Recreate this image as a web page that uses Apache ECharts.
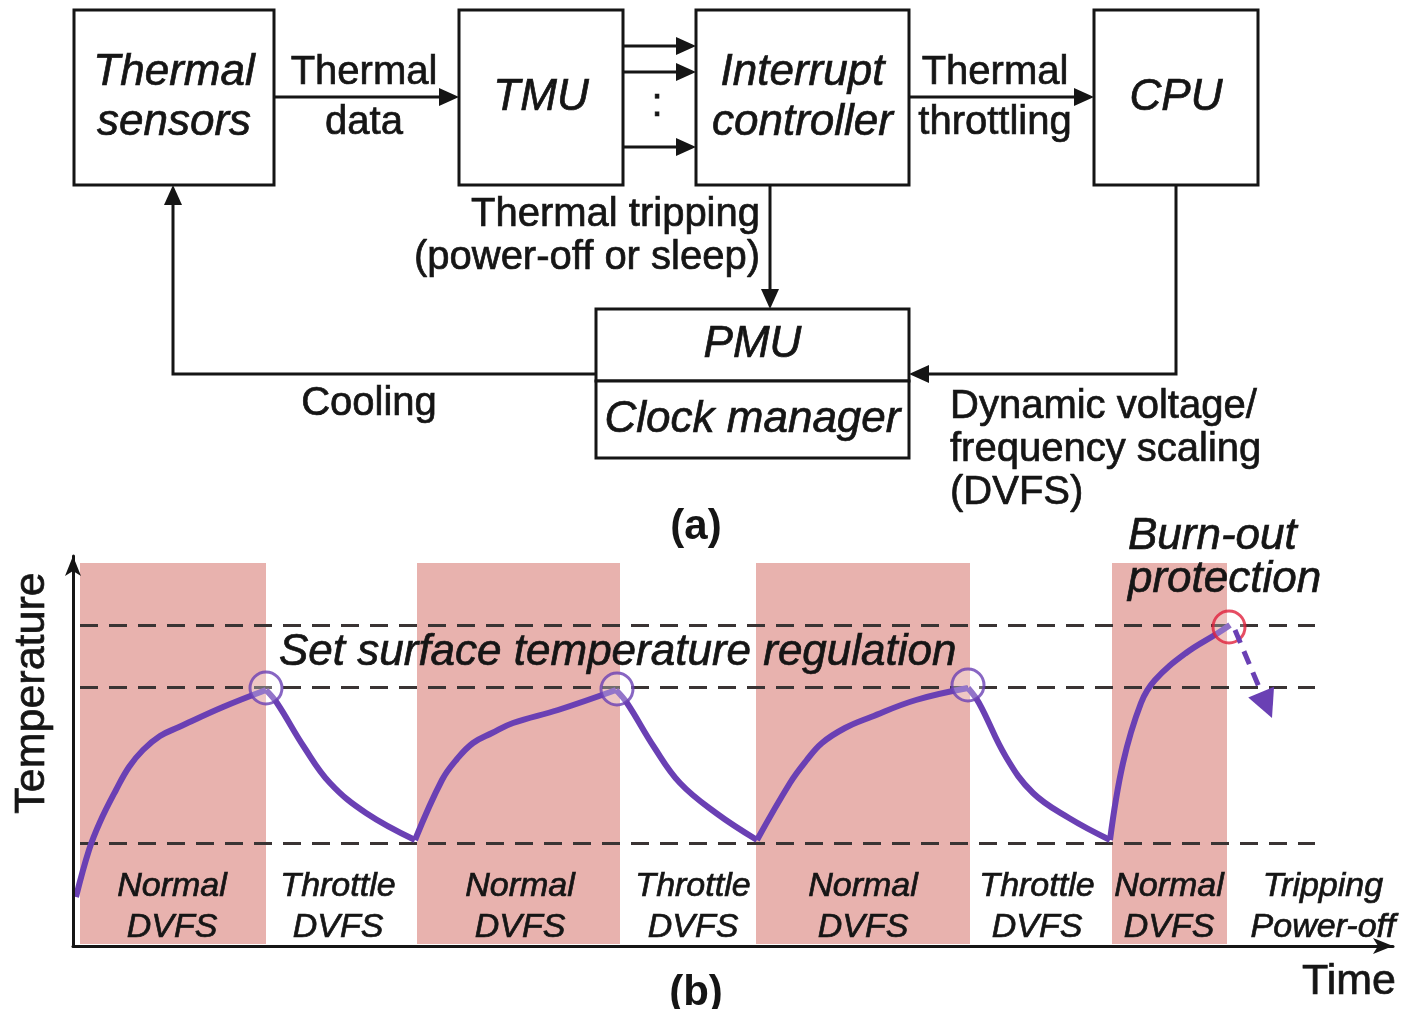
<!DOCTYPE html>
<html>
<head>
<meta charset="utf-8">
<script src="https://cdn.jsdelivr.net/npm/echarts@6/dist/echarts.min.js"></script>
<style>
  html, body { margin: 0; padding: 0; background: #fff; }
  #main { width: 1406px; height: 1009px; }
</style>
</head>
<body>
<div id="main"></div>
<script>
// (a) block diagram, in reference units (x right, y down)
var boxes = [
  [74, 10, 274, 185, 'Thermal\nsensors'],
  [459, 10, 623, 185, 'TMU'],
  [696, 10, 909, 185, 'Interrupt\ncontroller'],
  [1094, 10, 1258, 185, 'CPU'],
  [596, 309, 909, 381, 'PMU'],
  [596, 381, 909, 458, 'Clock manager']
];
var links = [
  [[274, 97], [459, 97]],
  [[623, 46], [696, 46]],
  [[623, 72], [696, 72]],
  [[623, 147], [696, 147]],
  [[909, 97], [1094, 97]],
  [[770, 185], [770, 309]],
  [[1176, 185], [1176, 374], [909, 374]],
  [[596, 374], [173, 374], [173, 185]]
];
var linkLabels = [
  [364, 98, 'Thermal\ndata'],
  [995, 98, 'Thermal\nthrottling'],
  [369, 404, 'Cooling'],
  [657, 105, ':']
];
var trippingLabel = [[760, 236, 'Thermal tripping\n(power-off or sleep)']];
var dvfsLabel = [[950, 450, 'Dynamic voltage/\nfrequency scaling\n(DVFS)']];

// (b) temperature vs time
var bands = [[0.7, 19.3], [34.4, 54.7], [68.3, 89.7], [103.9, 115.4]];
var bandTop = 95.75;
var thresholds = [80.25, 64.75, 25.75];
var dashSpan = [0.7, 124.2];

var rise1 = [[0.3, 12.25], [1.6, 24], [2.7, 31], [4.3, 39], [5.6, 44.75], [7.0, 49], [8.7, 52.5],
  [10.6, 54.75], [15.0, 59.75], [19.3, 64]];
var fall1 = [[19.3, 64], [20.4, 60.75], [23.1, 49.75], [25.7, 40.75], [29.3, 33.25], [34.2, 26.5]];
var rise2 = [[34.2, 26.5], [36.9, 41.5], [38.4, 46.75], [40.0, 50.75], [41.9, 53.25], [44.0, 55.75],
  [48.5, 59], [54.3, 64]];
var fall2 = [[54.3, 64], [55.4, 60.75], [58.1, 49.75], [60.7, 40.75], [64.3, 33.25], [68.4, 26.5]];
var rise3 = [[68.4, 26.5], [71.7, 40.75], [73.3, 46.25], [74.9, 50.75], [77.2, 54.5], [79.8, 57.25],
  [84.3, 61.5], [89.5, 64.5]];
var fall3 = [[89.5, 64.5], [90.6, 60.75], [93.3, 47.25], [96.0, 38.25], [99.6, 32], [103.7, 26.5]];
var rise4 = [[103.7, 26.5], [105.0, 45.75], [106.8, 60.75], [108.2, 66.5], [111.3, 73.25],
  [114.5, 78.25], [115.7, 80.25]];

var peaks = [[19.3, 64.5], [54.4, 64.25], [89.5, 65.25]];
var burnout = [[115.6, 79.75]];
var burnoutArrow = [[[116.2, 79.0], [119.9, 57.0]]];

var phaseNames = ['Normal\nDVFS', 'Throttle\nDVFS', 'Normal\nDVFS', 'Throttle\nDVFS',
  'Normal\nDVFS', 'Throttle\nDVFS', 'Normal\nDVFS', 'Tripping\nPower-off'];
var phaseX = [9.9, 26.5, 44.7, 62.0, 79.0, 96.4, 109.6, 125.0];
var phaseY = 9.75;
var notes = [[20.6, 73.25, 'Set surface temperature regulation'], [105.5, 96.9, 'Burn-out\nprotection']];
var axisTitles = [[127.6, -9, 'Time']];
var tempTitle = [[-4.1, 63.25, 'Temperature']];

var FONT = '"Liberation Sans", Arial, sans-serif';
var INK = '#151515';
var PURPLE = '#6a40b4';
var BAND = '#e8b2ae';

function textSeries(grid, rows, style) {
  return {
    type: 'custom', xAxisIndex: grid, yAxisIndex: grid, silent: true, z: 20,
    data: rows.map(function (r) { return [r[0], r[1]]; }),
    renderItem: function (params, api) {
      var r = rows[params.dataIndex];
      var p = api.coord([r[0], r[1]]);
      return {
        type: 'text', x: p[0], y: p[1], rotation: style.rotation || 0,
        style: {
          text: r[2], fill: INK, stroke: INK, lineWidth: 0.7, fontFamily: FONT,
          fontSize: style.fontSize, fontStyle: style.fontStyle || 'normal',
          fontWeight: style.fontWeight || 'normal', lineHeight: style.lineHeight,
          align: style.align || 'center', verticalAlign: 'middle'
        }
      };
    }
  };
}

function arrowSeries(grid, list, o) {
  return {
    type: 'custom', xAxisIndex: grid, yAxisIndex: grid, silent: true, z: o.z || 10,
    data: list.map(function (a) { return a[0]; }),
    renderItem: function (params, api) {
      var pts = list[params.dataIndex].map(function (c) { return api.coord(c); });
      var n = pts.length, tip = pts[n - 1], prev = pts[n - 2];
      var dx = tip[0] - prev[0], dy = tip[1] - prev[1];
      var len = Math.sqrt(dx * dx + dy * dy), ux = dx / len, uy = dy / len;
      var base = [tip[0] - ux * o.head, tip[1] - uy * o.head];
      var shaft = pts.slice(0, n - 1).concat([base]);
      return {
        type: 'group', children: [
          { type: 'polyline', shape: { points: shaft },
            style: { stroke: o.color, lineWidth: o.width, fill: null, lineDash: o.dash || null } },
          { type: 'polygon', shape: { points: [tip,
              [base[0] - uy * o.half, base[1] + ux * o.half],
              [base[0] + uy * o.half, base[1] - ux * o.half]] },
            style: { fill: o.color } }
        ]
      };
    }
  };
}

var series = [];

// diagram boxes
series.push({
  type: 'custom', xAxisIndex: 0, yAxisIndex: 0, silent: true, z: 5,
  data: boxes.map(function (b) { return [b[0], b[1]]; }),
  renderItem: function (params, api) {
    var b = boxes[params.dataIndex];
    var p0 = api.coord([b[0], b[1]]), p1 = api.coord([b[2], b[3]]);
    return {
      type: 'group', children: [
        { type: 'rect', shape: { x: p0[0], y: p0[1], width: p1[0] - p0[0], height: p1[1] - p0[1] },
          style: { fill: '#fff', stroke: INK, lineWidth: 3 } },
        { type: 'text', x: (p0[0] + p1[0]) / 2, y: (p0[1] + p1[1]) / 2,
          style: { text: b[4], fill: INK, stroke: INK, lineWidth: 0.7, fontFamily: FONT, fontSize: 44,
            fontStyle: 'italic', lineHeight: 50, align: 'center', verticalAlign: 'middle' } }
      ]
    };
  }
});
series.push(arrowSeries(0, links, { color: INK, width: 3, head: 20, half: 9 }));
series.push(textSeries(0, linkLabels, { fontSize: 40, lineHeight: 50 }));
series.push(textSeries(0, trippingLabel, { fontSize: 40, lineHeight: 43, align: 'right' }));
series.push(textSeries(0, dvfsLabel, { fontSize: 40, lineHeight: 43, align: 'left' }));

// chart: shaded phases
series.push({
  type: 'line', xAxisIndex: 1, yAxisIndex: 1, data: [], silent: true, z: 1,
  markArea: {
    silent: true, itemStyle: { color: BAND },
    data: bands.map(function (b) { return [{ xAxis: b[0], yAxis: 0.5 }, { xAxis: b[1], yAxis: bandTop }]; })
  }
});
// dashed threshold lines
series.push({
  type: 'line', xAxisIndex: 1, yAxisIndex: 1, data: [], silent: true, z: 2,
  markLine: {
    silent: true, symbol: ['none', 'none'], label: { show: false },
    lineStyle: { color: '#3a3434', width: 3, type: [18, 11] },
    data: thresholds.map(function (t) { return [{ coord: [dashSpan[0], t] }, { coord: [dashSpan[1], t] }]; })
  }
});
// temperature curve
[rise1, fall1, rise2, fall2, rise3, fall3, rise4].forEach(function (seg) {
  series.push({
    type: 'line', xAxisIndex: 1, yAxisIndex: 1, data: seg, smooth: 0.4,
    symbol: 'none', clip: false, silent: true, z: 5,
    lineStyle: { color: PURPLE, width: 6 }
  });
});
series.push({
  type: 'scatter', xAxisIndex: 1, yAxisIndex: 1, data: peaks, symbolSize: 32, silent: true, z: 6,
  itemStyle: { color: 'rgba(255,255,255,0.35)', borderColor: PURPLE, borderWidth: 3 }
});
series.push({
  type: 'scatter', xAxisIndex: 1, yAxisIndex: 1, data: burnout, symbolSize: 32, silent: true, z: 6,
  itemStyle: { color: 'rgba(255,255,255,0.3)', borderColor: '#e0213c', borderWidth: 3 }
});
series.push(arrowSeries(1, burnoutArrow, { color: PURPLE, width: 5, head: 28, half: 14, dash: [14, 9], z: 7 }));
series.push(textSeries(1, phaseX.map(function (x, i) { return [x, phaseY, phaseNames[i]]; }),
  { fontSize: 34, lineHeight: 41, fontStyle: 'italic' }));
series.push(textSeries(1, notes, { fontSize: 44, lineHeight: 43, fontStyle: 'italic', align: 'left' }));
series.push(textSeries(1, axisTitles, { fontSize: 43 }));
series.push(textSeries(1, tempTitle, { fontSize: 43, rotation: Math.PI / 2 }));

var hidden = { show: false };
var chart = echarts.init(document.getElementById('main'));
chart.setOption({
  animation: false,
  backgroundColor: '#fff',
  title: [
    { text: '(a)', left: 691, top: 522, textAlign: 'center', textVerticalAlign: 'middle',
      textStyle: { fontFamily: FONT, fontSize: 42, fontWeight: 'bold', color: INK } },
    { text: '(b)', left: 691, top: 988, textAlign: 'center', textVerticalAlign: 'middle',
      textStyle: { fontFamily: FONT, fontSize: 42, fontWeight: 'bold', color: INK } }
  ],
  grid: [
    { left: 0, top: 0, width: 1406, height: 530 },
    { left: 73, top: 556, right: 13, bottom: 63 }
  ],
  xAxis: [
    { gridIndex: 0, type: 'value', min: 0, max: 1406, show: false },
    { gridIndex: 1, type: 'value', min: 0, max: 132, z: 10,
      axisLine: { show: true, onZero: false, symbol: ['none', 'arrow'], symbolSize: [12, 20],
        lineStyle: { color: INK, width: 3 } },
      axisTick: hidden, axisLabel: hidden, splitLine: hidden }
  ],
  yAxis: [
    { gridIndex: 0, type: 'value', min: 0, max: 530, inverse: true, show: false },
    { gridIndex: 1, type: 'value', min: 0, max: 97.5, z: 10,
      axisLine: { show: true, onZero: false, symbol: ['none', 'arrow'], symbolSize: [12, 20],
        lineStyle: { color: INK, width: 3 } },
      axisTick: hidden, axisLabel: hidden, splitLine: hidden }
  ],
  series: series
});
</script>
</body>
</html>
